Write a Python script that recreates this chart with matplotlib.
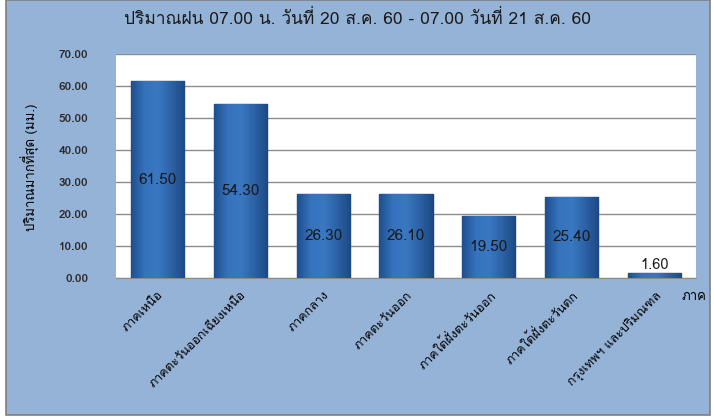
import matplotlib
matplotlib.use('Agg')
import numpy as np
from matplotlib import pyplot as plt
from matplotlib import font_manager
from matplotlib.ft2font import FT2Font
from matplotlib.patches import Rectangle
from matplotlib.colors import LinearSegmentedColormap

regions = ['ภาคเหนือ', 'ภาคตะวันออกเฉียงเหนือ', 'ภาคกลาง', 'ภาคตะวันออก',
           'ภาคใต้ฝั่งตะวันออก', 'ภาคใต้ฝั่งตะวันตก', 'กรุงเทพฯ และปริมณฑล']
rain = [61.50, 54.30, 26.30, 26.10, 19.50, 25.40, 1.60]
yticks = [0, 10, 20, 30, 40, 50, 60, 70]

# find an installed font that has Thai glyphs
thai_font = None
for f in font_manager.fontManager.ttflist:
    try:
        if 0x0E01 in FT2Font(f.fname).get_charmap():
            thai_font = f.name
            break
    except Exception:
        pass
families = ([thai_font] if thai_font else []) + ['DejaVu Sans']
plt.rcParams['font.family'] = families

bg = '#95b3d7'
fig = plt.figure(figsize=(7.14, 4.18), dpi=100, facecolor='white')
fig.patches.append(Rectangle((6 / 714, 3 / 418), 704 / 714, 415 / 418, transform=fig.transFigure,
                             facecolor=bg, edgecolor='#7f7f7f', linewidth=1.2, zorder=-5))

ax = fig.add_axes([116 / 714, 1 - 278 / 418, 580 / 714, 224 / 418])
ax.set_facecolor('white')
x = range(len(regions))
bars = ax.bar(x, rain, width=0.64, color='#2f66ad', edgecolor='#1a416f', linewidth=1.0, zorder=3)

# soft shading across each bar, like the spreadsheet bevel
cmap = LinearSegmentedColormap.from_list('bar', ['#1f4f8e', '#3672bd', '#3a78c2', '#2d62a6', '#1c4a86'])
grad = np.linspace(0, 1, 64).reshape(1, -1)
for b in bars:
    im = ax.imshow(grad, cmap=cmap, aspect='auto', zorder=3.2,
                   extent=[b.get_x(), b.get_x() + b.get_width(), 0, b.get_height()])
    im.set_clip_path(b)

for i, v in enumerate(rain):
    if v > 5:
        ax.text(i, v / 2, '%.2f' % v, ha='center', va='center', fontsize=11, color='#1a1a1a', zorder=4)
    else:
        ax.text(i, v + 0.2, '%.2f' % v, ha='center', va='bottom', fontsize=10.5, color='#1a1a1a', zorder=4)

ax.set_ylim(0, 70)
ax.set_xlim(-0.5, len(regions) - 0.5)
ax.set_yticks(yticks)
ax.set_yticklabels(['%.2f' % t for t in yticks], fontsize=8.5, fontweight='bold', color='#2b2b2b')
ax.yaxis.grid(True, color='#8c8c8c', linewidth=1.0, zorder=0)
ax.set_xticks(list(x))
ax.set_xticklabels(regions, rotation=45, ha='right', va='top', rotation_mode='anchor', fontsize=9)
ax.tick_params(axis='y', length=0, pad=20)
ax.tick_params(axis='x', length=0, pad=8)
for s in ['top', 'right', 'left']:
    ax.spines[s].set_visible(False)
ax.spines['bottom'].set_color('#8c8c8c')

fig.text(30 / 714, 1 - 167 / 418, 'ปริมาณมากที่สุด (มม.)', fontsize=9.5, rotation=90,
         ha='center', va='center')
fig.text(681 / 714, 1 - 297 / 418, 'ภาค', fontsize=9.5, ha='left', va='center')
fig.text(357 / 714, 1 - 19 / 418, 'ปริมาณฝน 07.00 น. วันที่ 20 ส.ค. 60 - 07.00 วันที่ 21 ส.ค. 60',
         fontsize=12.5, ha='center', va='center', color='#1a1a1a')

fig.savefig('out.png', dpi=100, facecolor='white')
